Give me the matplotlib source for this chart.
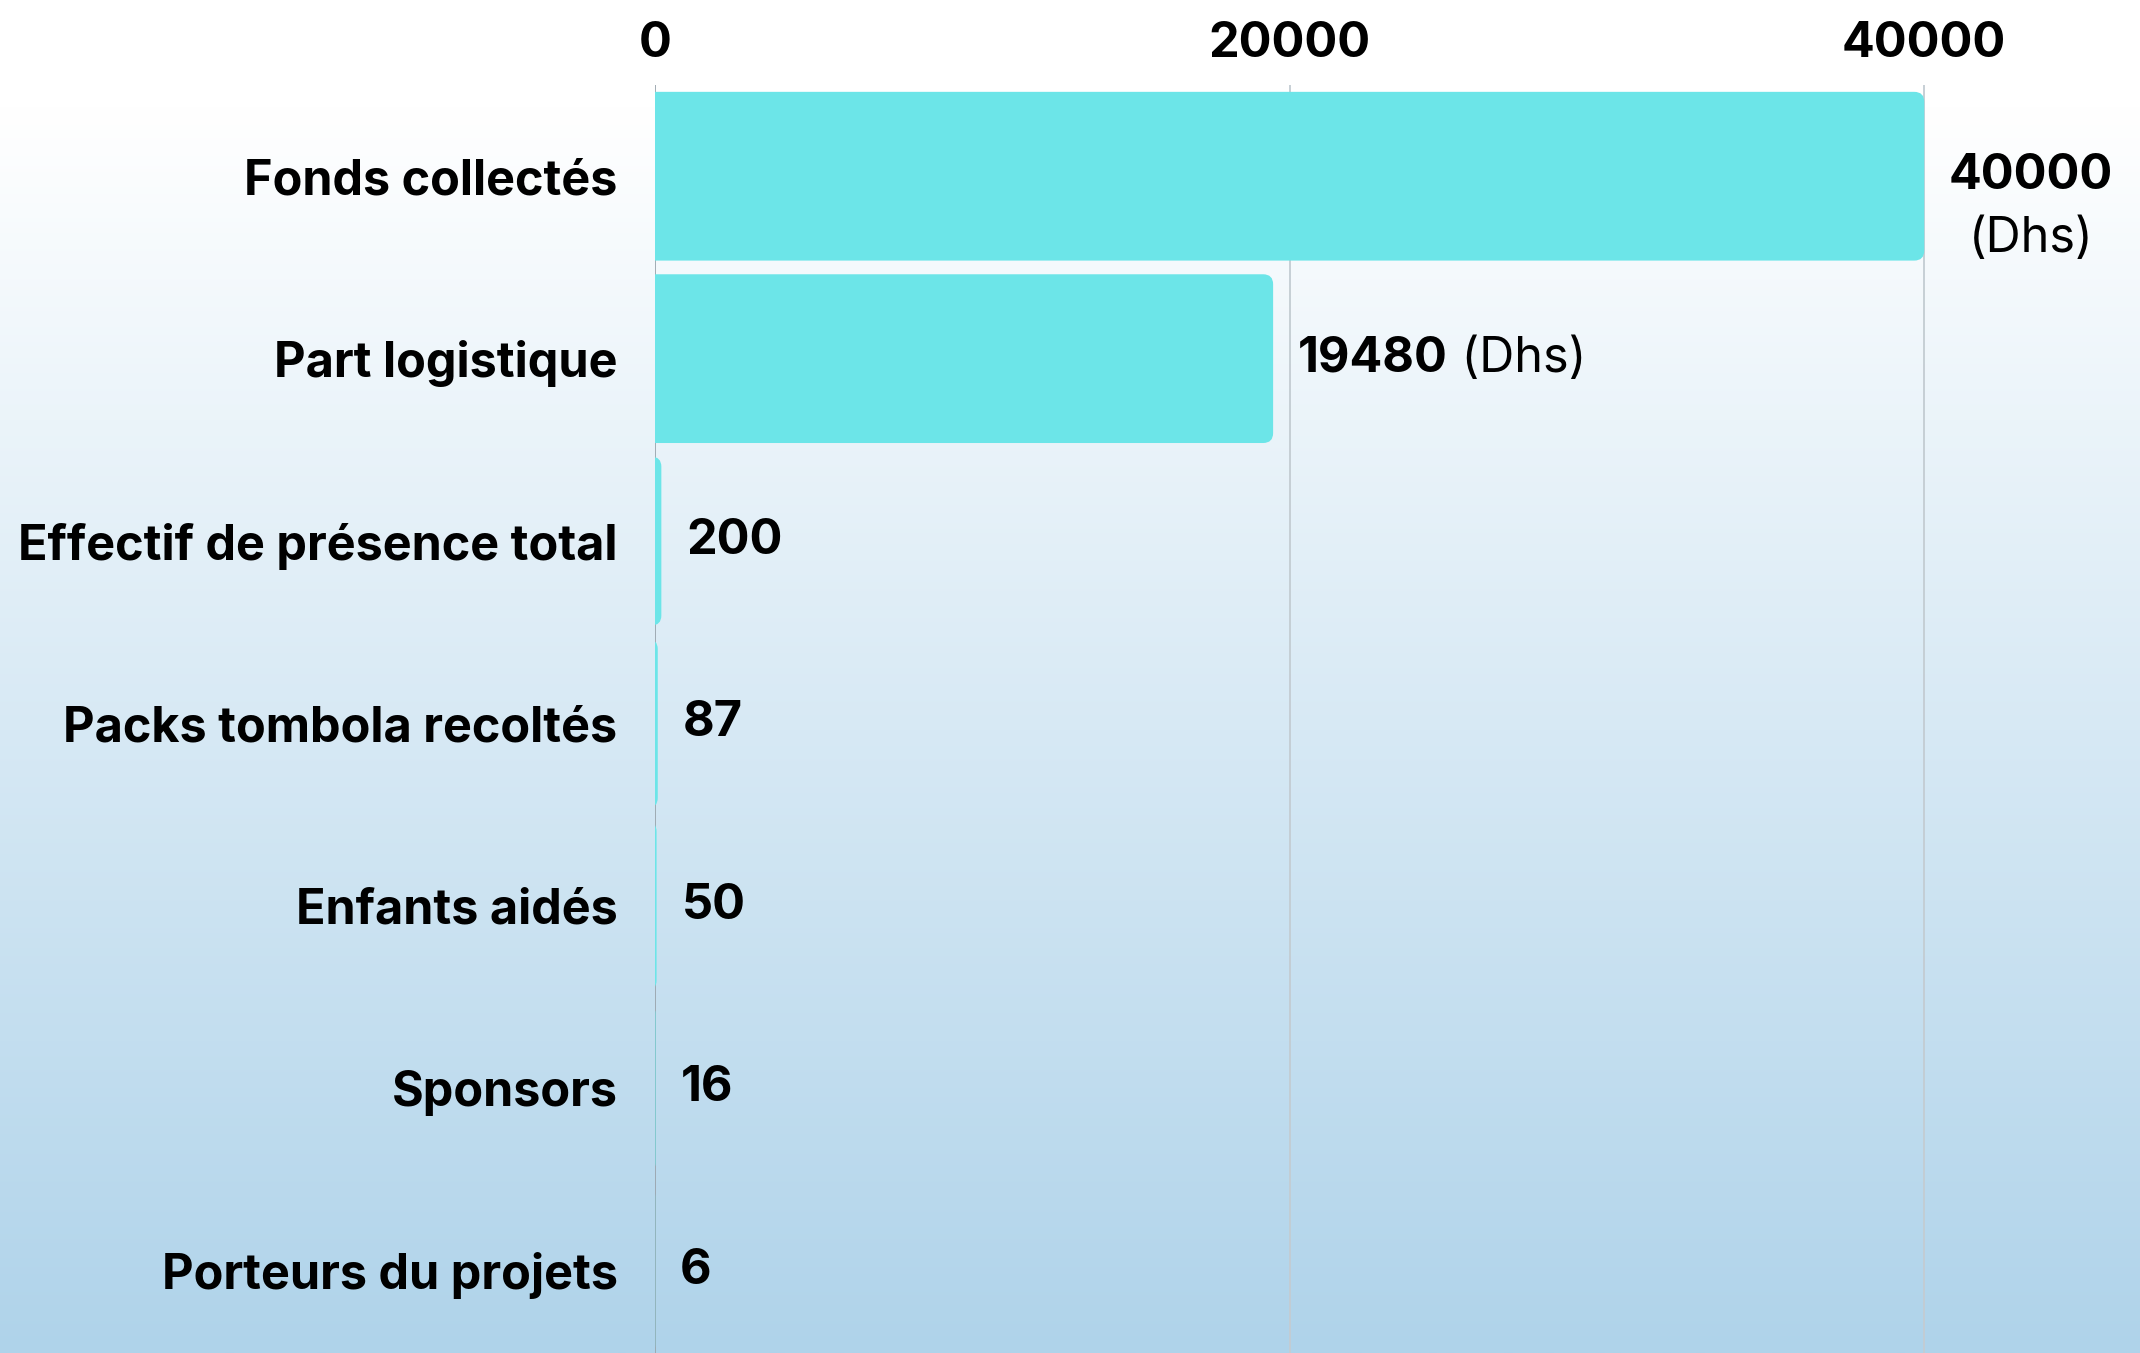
import numpy as np
import matplotlib.pyplot as plt
from matplotlib.patches import FancyBboxPatch

plt.rcParams['font.family'] = ['Inter', 'DejaVu Sans']

# data
categories = ["Fonds collectés", "Part logistique", "Effectif de présence total",
              "Packs tombola recoltés", "Enfants aidés", "Sponsors", "Porteurs du projets"]
values = [40000, 19480, 200, 87, 50, 16, 6]
units = ["(Dhs)", "(Dhs)", "", "", "", "", ""]
xticks = [0, 20000, 40000]

W, H, DPI = 2140, 1353, 100
FS = 35
fig = plt.figure(figsize=(W / DPI, H / DPI), dpi=DPI)

# background gradient (white at top -> light blue at bottom)
bg = fig.add_axes([0, 0, 1, 1], zorder=0)
t = np.clip((np.linspace(0, 1, 512) - 0.08) / 0.92, 0, 1)[:, None]
top = np.array([1.0, 1.0, 1.0])
bot = np.array([175, 211, 234]) / 255
img = top[None, None, :] * (1 - t[:, :, None]) + bot[None, None, :] * t[:, :, None]
bg.imshow(img, aspect='auto', extent=[0, 1, 0, 1])
bg.axis('off')

# main axes
left_px, top_px, bottom_px = 655, 85, 1362
xmax = 46800
ax = fig.add_axes([left_px / W, (H - bottom_px) / H, 1 - left_px / W, (bottom_px - top_px) / H], zorder=1)
ax.patch.set_alpha(0)
y = np.arange(len(categories))
bars = ax.barh(y, values, height=0.925, color='none')
ax.set_xlim(0, xmax)
ax.set_ylim(len(categories) - 0.5, -0.5)

# rounded right ends
x_per_px = xmax / (W - left_px)
y_per_px = len(categories) / (bottom_px - top_px)
r = 10 * x_per_px
for b in bars:
    x0, y0, w, h = b.get_x(), b.get_y(), b.get_width(), b.get_height()
    p = FancyBboxPatch((x0 - r, y0), w + r, h,
                       boxstyle=f"round,pad=0,rounding_size={r}",
                       mutation_aspect=y_per_px / x_per_px,
                       facecolor='#6ce5e8', edgecolor='none', zorder=2)
    ax.add_patch(p)
    b.remove()

# grid
for xt in xticks:
    ax.axvline(xt, color='#9aa6ae' if xt == 0 else '#c3ccd2', lw=1.3, zorder=1)

ax.xaxis.tick_top()
ax.set_xticks(xticks)
ax.set_xticklabels([str(v) for v in xticks], fontsize=FS, fontweight='bold')
ax.set_yticks(y)
ax.set_yticklabels(categories, fontsize=FS, fontweight='bold')
ax.tick_params(axis='x', length=0, pad=13)
ax.tick_params(axis='y', length=0, pad=27)
for s in ax.spines.values():
    s.set_visible(False)

# value labels
for i, (v, u) in enumerate(zip(values, units)):
    if i == 0:
        ax.annotate(str(v), (v, i), xytext=(77, 0), textcoords='offset points',
                    ha='center', va='center', fontsize=FS, fontweight='bold')
        ax.annotate(u, (v, i), xytext=(77, -45), textcoords='offset points',
                    ha='center', va='center', fontsize=FS)
    else:
        t1 = ax.annotate(str(v), (v, i), xytext=(18, 0), textcoords='offset points',
                         ha='left', va='center', fontsize=FS, fontweight='bold')
        if u:
            ax.annotate(" " + u, xy=(1, 0), xycoords=t1, ha='left', va='bottom', fontsize=FS)

fig.savefig("out.png", dpi=DPI)
